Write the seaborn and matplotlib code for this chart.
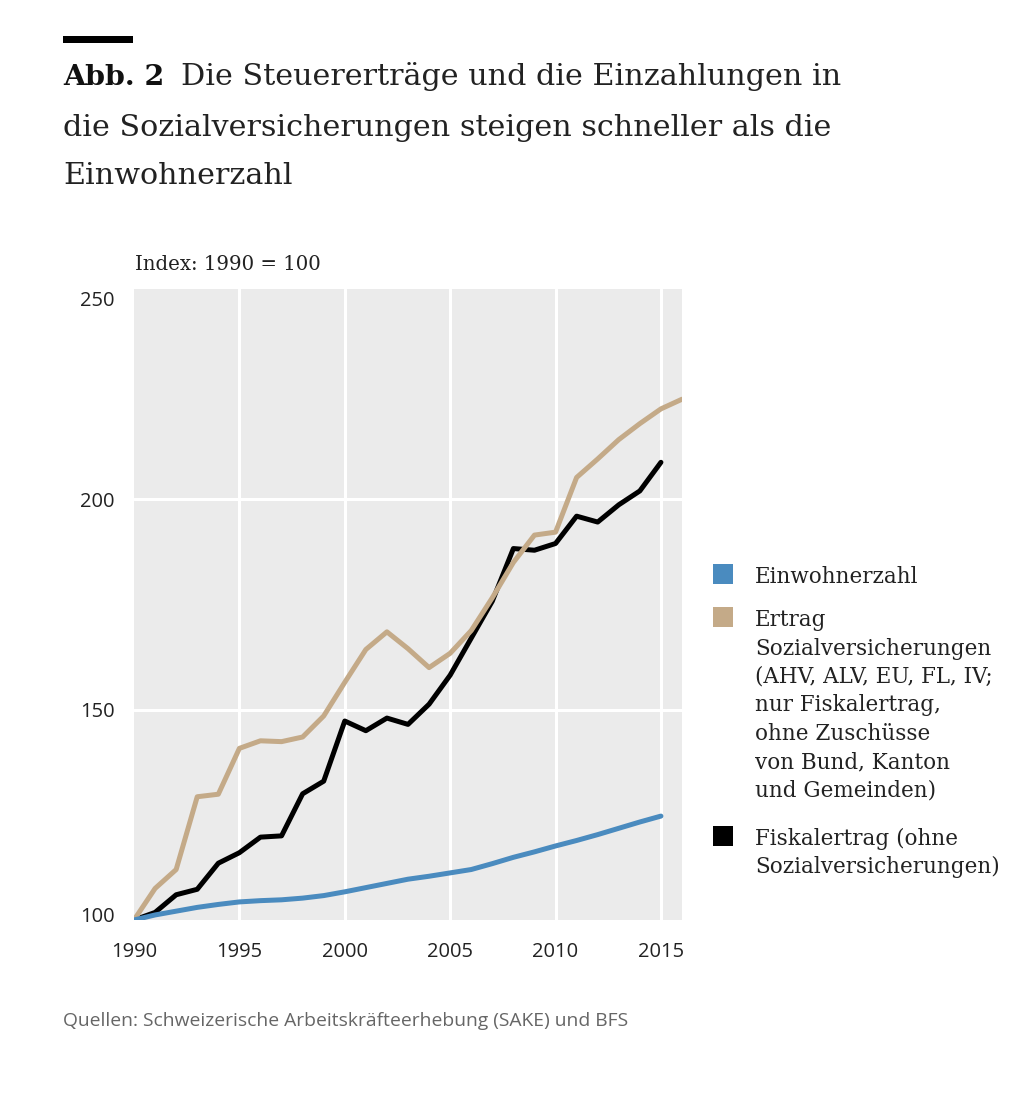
import numpy as np
import pandas as pd
import matplotlib
matplotlib.use("Agg")
import matplotlib.pyplot as plt
import matplotlib.transforms as mtransforms
import seaborn as sns
from matplotlib.patches import Rectangle

# values (Index: 1990 = 100)
years = list(range(1990, 2017))
einwohner = [100, 101.2, 102.1, 103.0, 103.7, 104.3, 104.6, 104.8, 105.2, 105.8,
             106.7, 107.7, 108.7, 109.7, 110.4, 111.2, 112.0, 113.4, 114.9, 116.2,
             117.6, 118.9, 120.3, 121.8, 123.3, 124.7]
sozialvers = [100, 107.5, 112, 129.3, 129.9, 140.8, 142.6, 142.4, 143.5, 148.5,
              156.5, 164.3, 168.5, 164.5, 160, 163.4, 168.8, 176.6, 185, 191.5,
              192.2, 205.2, 209.6, 214.2, 218, 221.5, 223.8]
fiskal = [100, 101.8, 106, 107.3, 113.5, 116, 119.7, 120, 130, 133,
          147.3, 145, 148, 146.5, 151.3, 158.2, 167, 175.8, 188.3, 187.9,
          189.5, 196, 194.6, 198.7, 202, 208.8]

series_names = ["Einwohnerzahl",
                "Ertrag\nSozialversicherungen\n(AHV, ALV, EU, FL, IV;\nnur Fiskalertrag,\nohne Zuschüsse\nvon Bund, Kanton\nund Gemeinden)",
                "Fiskalertrag (ohne\nSozialversicherungen)"]
colors = ["#4A8BBF", "#C4AA88", "#000000"]

x_ticks = [1990, 1995, 2000, 2005, 2010, 2015]
y_ticks = [100, 150, 200, 250]

title_bold = "Abb. 2"
title_lines = ["Die Steuererträge und die Einzahlungen in",
               "die Sozialversicherungen steigen schneller als die",
               "Einwohnerzahl"]
y_caption = "Index: 1990 = 100"
source = "Quellen: Schweizerische Arbeitskräfteerhebung (SAKE) und BFS"

frames = []
for name, vals in zip(series_names, [einwohner, sozialvers, fiskal]):
    frames.append(pd.DataFrame({"Jahr": years[:len(vals)], "Index": vals, "Reihe": name}))
df = pd.concat(frames, ignore_index=True)

sns.set_theme(style="darkgrid", rc={
    "axes.facecolor": "#EBEBEB",
    "grid.color": "white",
    "grid.linewidth": 2.2,
})
plt.rcParams["font.family"] = ["Open Sans", "DejaVu Sans"]

W, H = 1036, 1108
def fx(px):
    return px / W
def fy(py):
    return 1 - py / H

fig = plt.figure(figsize=(W / 100, H / 100), dpi=100)
ax = fig.add_axes([fx(134), fy(920), 548 / W, 631 / H])

# draw black first, tan over it, blue last
order = [series_names[2], series_names[1], series_names[0]]
palette = dict(zip(series_names, colors))
sns.lineplot(data=df, x="Jahr", y="Index", hue="Reihe", hue_order=order,
             palette=palette, linewidth=3.6, legend=False, ax=ax)

ax.set_xlim(1990, 2016)
ax.set_ylim(100, 250)
ax.set_xticks(x_ticks)
ax.set_yticks(y_ticks)
ax.set_xlabel("")
ax.set_ylabel("")
ax.tick_params(axis="y", length=0, pad=14, labelsize=14.5, labelcolor="#222222")
ax.tick_params(axis="x", length=0, pad=16, labelsize=14.5, labelcolor="#222222")
for s in ax.spines.values():
    s.set_visible(False)
# no white lines along the plot edges
ax.xaxis.get_gridlines()[0].set_visible(False)
ax.yaxis.get_gridlines()[0].set_visible(False)
ax.yaxis.get_gridlines()[-1].set_visible(False)
# edge labels sit a little inside the plot
for lab, dy in [(ax.get_yticklabels()[0], 5), (ax.get_yticklabels()[-1], -9)]:
    lab.set_transform(lab.get_transform() +
                      mtransforms.ScaledTranslation(0, dy / 100, fig.dpi_scale_trans))

serif = ["DejaVu Serif"]

# title block
fig.patches.append(Rectangle((fx(63), fy(43)), 70 / W, 7 / H, transform=fig.transFigure,
                             facecolor="black", edgecolor="none"))
t_bold = fig.text(fx(63), fy(85), title_bold, family=serif, fontsize=20.5, fontweight="bold",
                  va="baseline", ha="left", color="#111111")
fig.canvas.draw()
bold_right = t_bold.get_window_extent().x1
fig.text((bold_right + 17) / W, fy(85), title_lines[0], family=serif, fontsize=21.7,
         va="baseline", ha="left", color="#222222")
fig.text(fx(63), fy(136), title_lines[1], family=serif, fontsize=21.7,
         va="baseline", ha="left", color="#222222")
fig.text(fx(63), fy(184), title_lines[2], family=serif, fontsize=21.7,
         va="baseline", ha="left", color="#222222")

fig.text(fx(135), fy(270), y_caption, family=serif, fontsize=14.2,
         va="baseline", ha="left", color="#222222")

# legend: squares and label lines
first_baselines = [583, 626, 845]
square_tops = [564, 607, 826]
for name, col, base, top in zip(series_names, colors, first_baselines, square_tops):
    fig.patches.append(Rectangle((fx(713), fy(top + 20)), 20 / W, 20 / H,
                                 transform=fig.transFigure, facecolor=col, edgecolor="none"))
    for i, line in enumerate(name.split("\n")):
        fig.text(fx(755), fy(base + i * 28.5), line, family=serif, fontsize=15.5,
                 va="baseline", ha="left", color="#222222")

fig.text(fx(63), fy(1026), source, fontsize=13.9, color="#666666",
         va="baseline", ha="left")

fig.savefig("out.png", dpi=100)
